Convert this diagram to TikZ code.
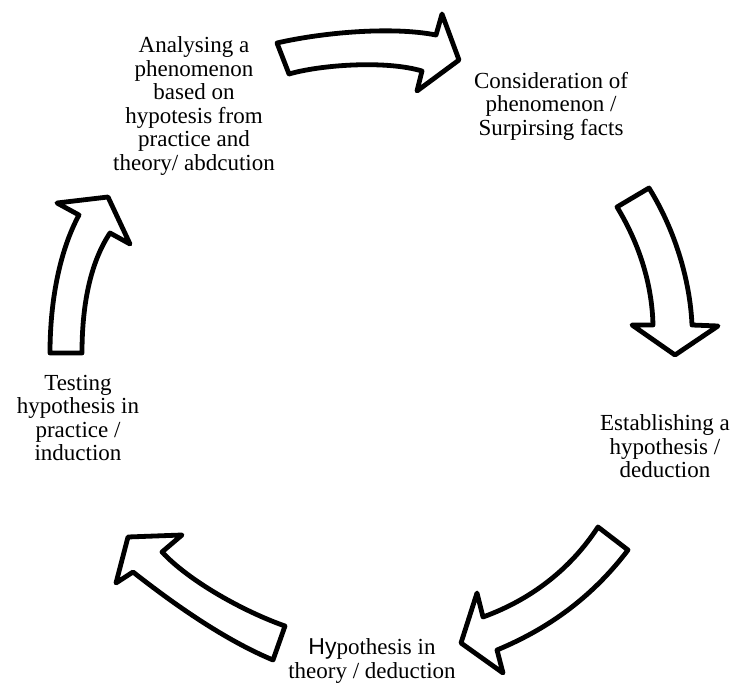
\documentclass[tikz,border=0pt]{standalone}
\usepackage{fontspec}
\setmainfont{Liberation Serif}
\newfontfamily\hysans{Liberation Sans}
\begin{document}
\begin{tikzpicture}[x=1pt,y=-1pt,
  bigarrow/.style={draw=black,fill=white,line width=4.8pt,line join=round},
  lbl/.style={align=center,anchor=north,inner sep=0pt,outer sep=0pt,font=\fontsize{23}{23.5}\selectfont}]
\useasboundingbox (0,0) rectangle (739,687);
% arrow 1 (top, pointing right)
\draw[bigarrow] (277,43) .. controls (320,33) and (390,26) .. (436,35) -- (442,14) -- (459,60) -- (417,91) -- (422,71) .. controls (385,60) and (320,65) .. (289,74) -- cycle;
% arrow 2 (right, pointing down)
\draw[bigarrow] (617,207) -- (649,188) .. controls (675,230) and (690,280) .. (692,325) -- (718,326) -- (675,355) -- (632,325) -- (653,325) .. controls (652,285) and (640,245) .. (617,207) -- cycle;
% arrow 3 (lower right, pointing down-left)
\draw[bigarrow] (598,527) -- (628,550) .. controls (590,600) and (545,630) .. (497,650) -- (503,673) -- (461,643) -- (477,593) -- (483,617) .. controls (530,600) and (570,570) .. (598,527) -- cycle;
% arrow 4 (lower left, pointing up-left)
\draw[bigarrow] (273,660) -- (285,626) .. controls (245,612) and (190,582) .. (162,552) -- (182,535) -- (128,537) -- (116,583) -- (133,572) .. controls (175,605) and (225,640) .. (273,660) -- cycle;
% arrow 5 (left, pointing up)
\draw[bigarrow] (50,353) -- (82,353) .. controls (82,300) and (92,260) .. (110,233) -- (130,244) -- (108,197) -- (57,203) -- (79,215) .. controls (60,250) and (50,300) .. (50,353) -- cycle;
% labels
\node[lbl] (analyse) at (194,37) {Analysing a\\phenomenon\\based on\\hypotesis from\\practice and\\theory/ abdcution};
\node[lbl] (consider) at (551,72) {Consideration of\\phenomenon /\\Surpirsing facts};
\node[lbl] (establish) at (665,415) {Establishing a\\hypothesis /\\deduction};
\node[lbl] (theory) at (372,639) {{\hysans Hy}pothesis in\\theory / deduction};
\node[lbl] (testing) at (78,375) {Testing\\hypothesis in\\practice /\\induction};
\end{tikzpicture}
\end{document}
